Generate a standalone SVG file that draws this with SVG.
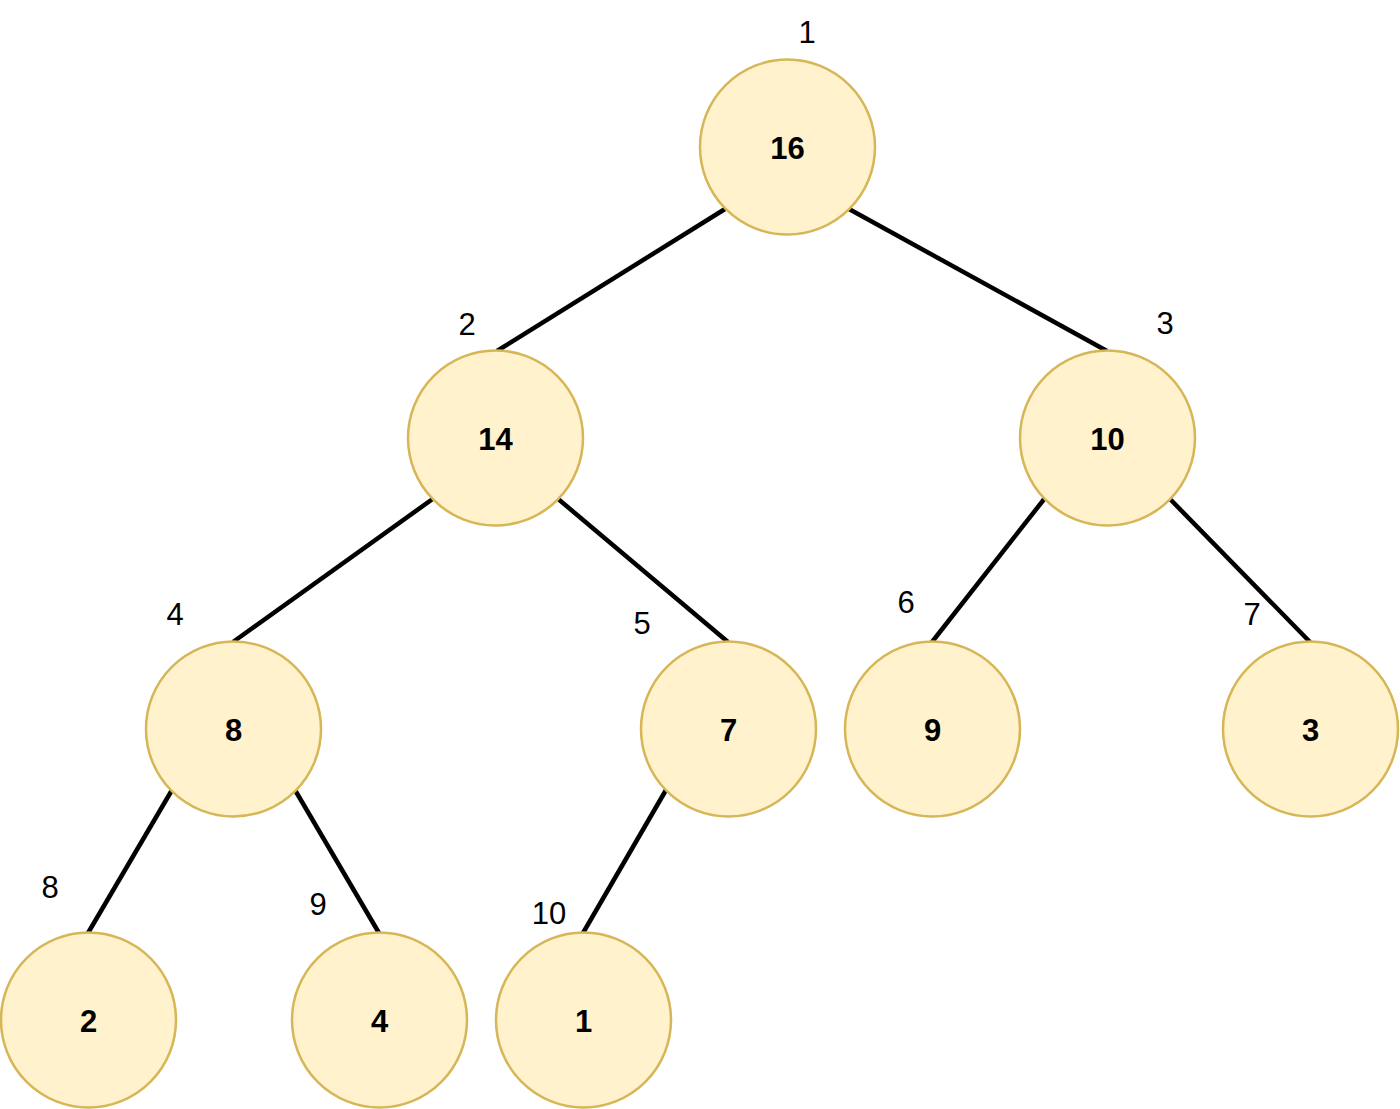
<svg xmlns="http://www.w3.org/2000/svg" width="1400" height="1109" viewBox="0 0 1400 1109">
<style>
.node circle{fill:#fff2cc;stroke:#d6b656;stroke-width:2.5}
.node text{font-family:"Liberation Sans",Arial,sans-serif;font-weight:bold;font-size:31px;text-anchor:middle;fill:#000}
.idx{font-family:"Liberation Sans",Arial,sans-serif;font-size:31px;text-anchor:middle;fill:#000}
.edges line{stroke:#000;stroke-width:4.5}
</style>
<rect width="1400" height="1109" fill="#fff"/>
<g class="edges" id="connectors">
<line x1="725" y1="209" x2="497" y2="351"/>
<line x1="849" y1="209" x2="1107" y2="351"/>
<line x1="434" y1="498" x2="233" y2="642"/>
<line x1="557" y1="498" x2="728" y2="642"/>
<line x1="1045" y1="498" x2="932" y2="642"/>
<line x1="1169" y1="498" x2="1310" y2="642"/>
<line x1="172" y1="790" x2="88" y2="933"/>
<line x1="295" y1="790" x2="379" y2="933"/>
<line x1="666" y1="790" x2="583" y2="933"/>
</g>
<g class="node" id="n16"><circle cx="787.5" cy="147" r="87.5"/><text x="787.5" y="159">16</text></g>
<g class="node" id="n14"><circle cx="495.5" cy="438" r="87.5"/><text x="495.5" y="450">14</text></g>
<g class="node" id="n10"><circle cx="1107.5" cy="438" r="87.5"/><text x="1107.5" y="450">10</text></g>
<g class="node" id="n8"><circle cx="233.5" cy="729" r="87.5"/><text x="233.5" y="741">8</text></g>
<g class="node" id="n7"><circle cx="728.5" cy="729" r="87.5"/><text x="728.5" y="741">7</text></g>
<g class="node" id="n9"><circle cx="932.5" cy="729" r="87.5"/><text x="932.5" y="741">9</text></g>
<g class="node" id="n3"><circle cx="1310.5" cy="729" r="87.5"/><text x="1310.5" y="741">3</text></g>
<g class="node" id="n2"><circle cx="88.5" cy="1020" r="87.5"/><text x="88.5" y="1032">2</text></g>
<g class="node" id="n4"><circle cx="379.5" cy="1020" r="87.5"/><text x="379.5" y="1032">4</text></g>
<g class="node" id="n1"><circle cx="583.5" cy="1020" r="87.5"/><text x="583.5" y="1032">1</text></g>
<g id="indices">
<text class="idx" x="807" y="43">1</text>
<text class="idx" x="467" y="335">2</text>
<text class="idx" x="1165" y="334">3</text>
<text class="idx" x="175" y="625">4</text>
<text class="idx" x="642" y="634">5</text>
<text class="idx" x="906" y="613">6</text>
<text class="idx" x="1252" y="625">7</text>
<text class="idx" x="50" y="898">8</text>
<text class="idx" x="318" y="915">9</text>
<text class="idx" x="549" y="924">10</text>
</g>
</svg>
